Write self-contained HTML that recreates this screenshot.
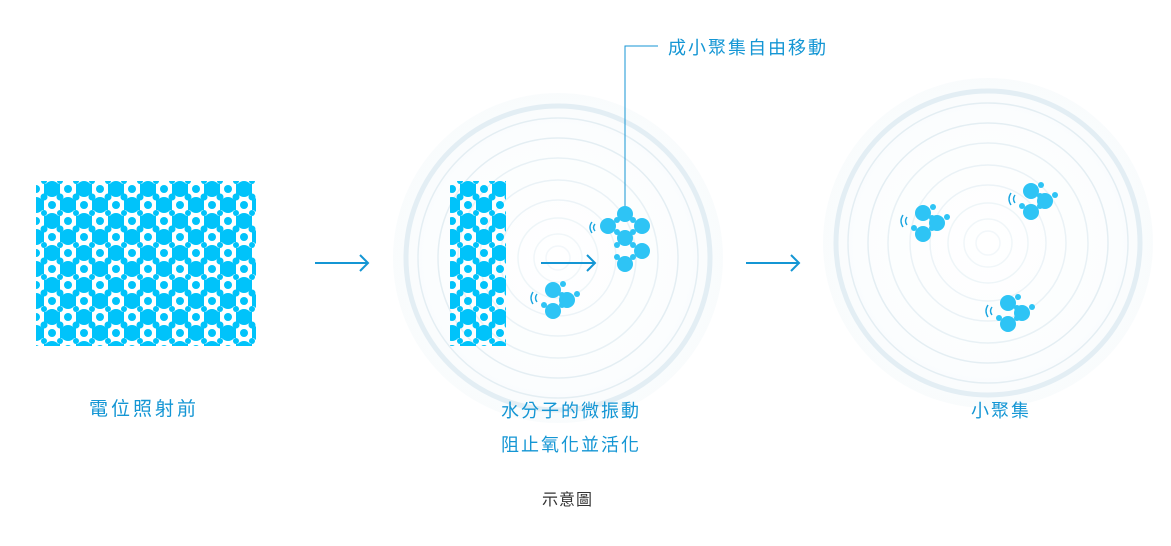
<!DOCTYPE html>
<html><head><meta charset="utf-8"><style>
body{margin:0;background:#fff;width:1171px;height:546px;overflow:hidden;font-family:"Liberation Sans","Noto Sans CJK TC",sans-serif}
.t{position:absolute;color:#1496d4;font-size:18px;letter-spacing:2px;white-space:nowrap}
</style></head><body>
<svg width="1171" height="546" style="position:absolute;left:0;top:0">
<defs>
<radialGradient id="g" cx="50%" cy="50%" r="50%">
<stop offset="0" stop-color="#fff"/><stop offset="0.8" stop-color="#fbfdfe"/><stop offset="1" stop-color="#f5f9fb" stop-opacity="0.6"/>
</radialGradient>
<pattern id="p" width="32" height="32" patternUnits="userSpaceOnUse" x="36" y="181">
<g fill="#00c3fa">
<circle cx="16" cy="8" r="8"/><rect x="8" y="3" width="16" height="10"/>
<circle cx="0" cy="24" r="8"/><circle cx="32" cy="24" r="8"/>
<rect x="-8" y="19" width="16" height="10"/><rect x="24" y="19" width="16" height="10"/>
<circle cx="0" cy="-8" r="8"/><circle cx="32" cy="-8" r="8"/>
<circle cx="0" cy="8" r="4"/><circle cx="32" cy="8" r="4"/>
<circle cx="16" cy="24" r="4"/>
<circle cx="8" cy="0" r="3"/><circle cx="24" cy="0" r="3"/><circle cx="8" cy="32" r="3"/><circle cx="24" cy="32" r="3"/>
<circle cx="8" cy="16" r="3.5"/><circle cx="24" cy="16" r="3.5"/>
</g>
</pattern>
<g id="cl" fill="#2ec4f5">
<circle cx="0" cy="0" r="8"/><circle cx="14" cy="10" r="8"/><circle cx="0" cy="21" r="8"/>
<circle cx="10" cy="-6" r="3"/><circle cx="9" cy="5" r="3"/><circle cx="24" cy="4" r="3"/><circle cx="-9" cy="15" r="3"/><circle cx="9" cy="15" r="3"/>
<path d="M-20 2 q-4 6 0 12 M-16 4 q-3 4 0 8" stroke="#1aa6e0" stroke-width="1.4" fill="none"/>
</g>
<g id="rings" fill="none" stroke="#e4eef3">
<circle r="165" fill="url(#g)" stroke="none"/>
<circle r="152" stroke-width="5" stroke="#e3eef4"/>
<circle r="140" stroke-width="1.5"/>
<circle r="120" stroke-width="1.5"/>
<circle r="100" stroke-width="1.5" stroke="#e8f1f5"/>
<circle r="78" stroke-width="1.5" stroke="#eaf2f6"/>
<circle r="58" stroke-width="1.5" stroke="#ecf3f7"/>
<circle r="40" stroke-width="1.5" stroke="#eef5f8"/>
<circle r="24" stroke-width="1.5" stroke="#f0f6f9"/>
<circle r="12" stroke-width="1.5" stroke="#f2f7fa"/>
</g>
</defs>
<use href="#rings" x="558" y="258"/>
<use href="#rings" x="988" y="243"/>
<rect x="36" y="181" width="220" height="165" fill="url(#p)"/>
<rect x="450" y="181" width="56" height="165" fill="url(#p)"/>
<g stroke="#1496d4" stroke-width="2" fill="none">
<path d="M315 263 H368 M360 255 L368 263 L360 271"/>
<path d="M541 263 H595 M587 255 L595 263 L587 271"/>
<path d="M746 263 H799 M791 255 L799 263 L791 271"/>
</g>
<path d="M625 207 V46 H658" stroke="#1496d4" stroke-width="1" fill="none"/>
<g fill="#2ec4f5">
<circle cx="625" cy="214" r="8"/><circle cx="608" cy="226" r="8"/><circle cx="642" cy="226" r="8"/>
<circle cx="625" cy="238" r="8"/><circle cx="642" cy="251" r="8"/><circle cx="625" cy="264" r="8"/>
<circle cx="617" cy="220" r="3"/><circle cx="633" cy="220" r="3"/><circle cx="617" cy="232" r="3"/><circle cx="633" cy="232" r="3"/>
<circle cx="617" cy="245" r="3"/><circle cx="633" cy="245" r="3"/><circle cx="617" cy="257" r="3"/><circle cx="633" cy="257" r="3"/>
</g>
<path d="M592 222 q-4 5 0 11 M595 224 q-3 3.5 0 7" stroke="#1aa6e0" stroke-width="1.4" fill="none"/>
<use href="#cl" x="553" y="290"/>
<use href="#cl" x="923" y="213"/>
<use href="#cl" x="1031" y="191"/>
<use href="#cl" x="1008" y="303"/>
</svg>
<div class="t" style="left:668px;top:34px">成小聚集自由移動</div>
<div class="t" style="left:89px;top:394px;font-size:19px;letter-spacing:3px">電位照射前</div>
<div class="t" style="left:501px;top:397px">水分子的微振動</div>
<div class="t" style="left:501px;top:431px">阻止氧化並活化</div>
<div class="t" style="left:971px;top:397px">小聚集</div>
<div class="t" style="left:542px;top:486px;color:#333;font-size:16px;letter-spacing:1px">示意圖</div>
</body></html>
